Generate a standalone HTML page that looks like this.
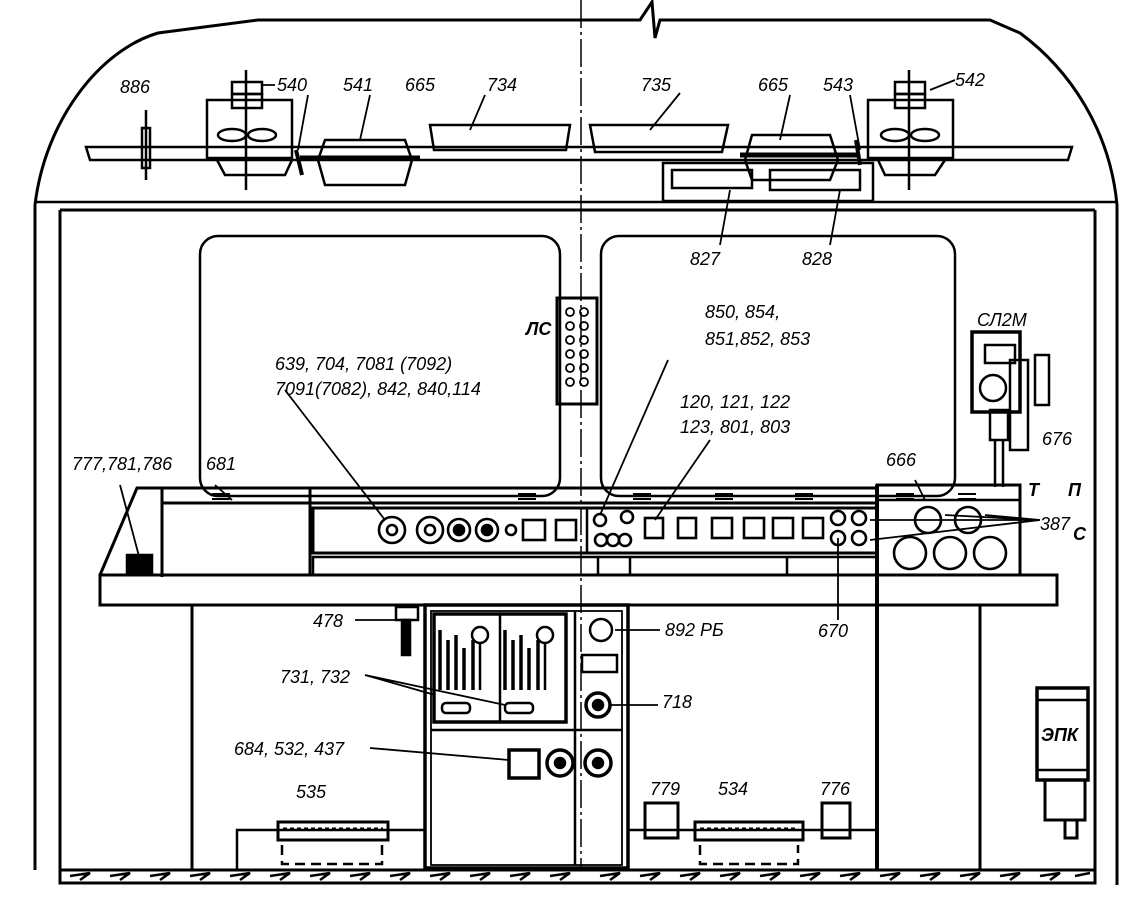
<!DOCTYPE html>
<html><head><meta charset="utf-8"><style>
html,body{margin:0;padding:0;background:#fff;}
svg{display:block}
text{font-family:"Liberation Sans",sans-serif;font-style:italic;font-size:18px;fill:#000}
</style></head><body>
<svg width="1125" height="902" viewBox="0 0 1125 902" xmlns="http://www.w3.org/2000/svg" fill="none" stroke="#000" stroke-width="2.5">
<path d="M35 870 V205 C45 120 100 50 158 33 L258 20 H640 L652 2 L655 38 L660 20 H990 L1020 33 C1070 70 1110 130 1117 205 V885" stroke-width="3"/>
<path d="M35 202 H1117" />
<path d="M60 210 H1095 M60 210 V870 M1095 210 V870" stroke-width="3"/>
<path d="M86 147 H1072 L1068 160 H90 Z" stroke-width="2.5"/>
<path d="M581 0 V870" stroke-width="1.5" stroke-dasharray="28 4 3 4"/>
<rect x="200" y="236" width="360" height="260" rx="18"/>
<rect x="601" y="236" width="354" height="260" rx="18"/>
<g stroke-width="2.5">
<rect x="207" y="100" width="85" height="58"/><rect x="232" y="82" width="30" height="12"/><rect x="232" y="94" width="30" height="14"/>
<path d="M246 70 V190"/><ellipse cx="232" cy="135" rx="14" ry="6"/><ellipse cx="262" cy="135" rx="14" ry="6"/>
<path d="M217 160 L225 175 H285 L292 160"/>
<rect x="868" y="100" width="85" height="58"/><rect x="895" y="82" width="30" height="12"/><rect x="895" y="94" width="30" height="14"/>
<path d="M909 70 V190"/><ellipse cx="895" cy="135" rx="14" ry="6"/><ellipse cx="925" cy="135" rx="14" ry="6"/>
<path d="M878 160 L885 175 H935 L945 160"/>
<path d="M318 160 L325 140 H405 L412 160 L405 185 H325 Z"/><path d="M300 158 H420" stroke-width="5"/>
<path d="M745 160 L752 135 H830 L838 160 L830 180 H752 Z"/><path d="M740 155 H858" stroke-width="5"/>
<path d="M430 125 H570 L566 150 H434 Z"/><path d="M590 125 H728 L722 152 H595 Z"/>
<rect x="663" y="163" width="210" height="38"/><rect x="672" y="170" width="80" height="18"/><rect x="770" y="170" width="90" height="20"/>
<rect x="142" y="128" width="8" height="40"/><path d="M146 110 V180"/>
<path d="M296 150 L302 175 M856 140 L860 165" stroke-width="4"/>
</g>
<rect x="557" y="298" width="40" height="106" stroke-width="3"/>
<g stroke-width="1.8"><circle cx="570" cy="312" r="4"/><circle cx="584" cy="312" r="4"/><circle cx="570" cy="326" r="4"/><circle cx="584" cy="326" r="4"/><circle cx="570" cy="340" r="4"/><circle cx="584" cy="340" r="4"/><circle cx="570" cy="354" r="4"/><circle cx="584" cy="354" r="4"/><circle cx="570" cy="368" r="4"/><circle cx="584" cy="368" r="4"/><circle cx="570" cy="382" r="4"/><circle cx="584" cy="382" r="4"/></g>
<rect x="972" y="332" width="48" height="80" stroke-width="3.5"/>
<rect x="985" y="345" width="30" height="18"/><circle cx="993" cy="388" r="13"/><rect x="1010" y="360" width="18" height="90"/><rect x="1035" y="355" width="14" height="50"/><rect x="990" y="410" width="18" height="30"/>
<path d="M995 440 V487 M1003 440 V487"/>
<path d="M100 575 L137 488 H877 M162 488 V577 M162 503 H877 M310 488 V575" stroke-width="3"/>
<rect x="313" y="508" width="564" height="45" stroke-width="3"/>
<rect x="313" y="557" width="564" height="18"/>
<path d="M598 557 V575 M630 557 V575 M787 557 V575 M587 508 V553"/>
<rect x="127" y="555" width="25" height="20" fill="#000"/>
<rect x="100" y="575" width="957" height="30" stroke-width="3"/>
<path d="M877 485 V870" stroke-width="4"/>
<rect x="877" y="485" width="143" height="90" stroke-width="3"/><path d="M877 500 H1020"/>
<g stroke-width="2.6">
<circle cx="392" cy="530" r="13"/><circle cx="392" cy="530" r="5"/><circle cx="430" cy="530" r="13"/><circle cx="430" cy="530" r="5"/>
<circle cx="459" cy="530" r="11"/><circle cx="459" cy="530" r="5" fill="#000"/><circle cx="487" cy="530" r="11"/><circle cx="487" cy="530" r="5" fill="#000"/><circle cx="511" cy="530" r="5"/>
<rect x="523" y="520" width="22" height="20"/><rect x="556" y="520" width="20" height="20"/>
<circle cx="600" cy="520" r="6"/><circle cx="627" cy="517" r="6"/><circle cx="601" cy="540" r="6"/><circle cx="613" cy="540" r="6"/><circle cx="625" cy="540" r="6"/>
<rect x="645" y="518" width="18" height="20"/><rect x="678" y="518" width="18" height="20"/><rect x="712" y="518" width="20" height="20"/><rect x="744" y="518" width="20" height="20"/><rect x="773" y="518" width="20" height="20"/><rect x="803" y="518" width="20" height="20"/>
<circle cx="838" cy="518" r="7"/><circle cx="859" cy="518" r="7"/><circle cx="838" cy="538" r="7"/><circle cx="859" cy="538" r="7"/>
<circle cx="928" cy="520" r="13"/><circle cx="968" cy="520" r="13"/><circle cx="910" cy="553" r="16"/><circle cx="950" cy="553" r="16"/><circle cx="990" cy="553" r="16"/>
</g>
<g stroke-width="2"><path d="M212 494 h18 M212 499 h18 M518 494 h18 M518 499 h18 M633 494 h18 M633 499 h18 M715 494 h18 M715 499 h18 M795 494 h18 M795 499 h18 M896 494 h18 M896 499 h18 M958 494 h18 M958 499 h18"/></g>
<path d="M192 605 V870 M980 605 V870" stroke-width="3"/>
<rect x="425" y="605" width="203" height="263" stroke-width="3.5"/>
<rect x="431" y="611" width="191" height="254" stroke-width="1.8"/>
<rect x="434" y="614" width="132" height="108" stroke-width="3.5"/>
<path d="M500 614 V722 M431 730 H622 M575 611 V865" stroke-width="2.5"/>
<g stroke-width="3.5"><path d="M440 630 V690 M448 640 V690 M456 635 V690 M464 648 V690 M473 640 V690 M505 630 V690 M513 640 V690 M521 635 V690 M529 648 V690 M538 640 V690"/></g>
<circle cx="480" cy="635" r="8"/><circle cx="545" cy="635" r="8"/><path d="M480 643 V690 M545 643 V690"/>
<rect x="442" y="703" width="28" height="10" rx="4"/><rect x="505" y="703" width="28" height="10" rx="4"/>
<circle cx="601" cy="630" r="11"/><rect x="582" y="655" width="35" height="17"/>
<circle cx="598" cy="705" r="12" stroke-width="3.5"/><circle cx="598" cy="705" r="5" fill="#000"/>
<rect x="509" y="750" width="30" height="28" stroke-width="3.5"/>
<circle cx="560" cy="763" r="13" stroke-width="3.5"/><circle cx="560" cy="763" r="5" fill="#000"/>
<circle cx="598" cy="763" r="13" stroke-width="3.5"/><circle cx="598" cy="763" r="5" fill="#000"/>
<rect x="396" y="607" width="22" height="13"/><rect x="402" y="620" width="8" height="35" fill="#000"/>
<rect x="237" y="830" width="188" height="40"/>
<rect x="278" y="822" width="110" height="18" stroke-width="3"/><path d="M283 829 H383" stroke-dasharray="4 3" stroke-width="3"/>
<path d="M282 845 V864 H382 V845" stroke-dasharray="10 6"/>
<rect x="628" y="830" width="249" height="40"/>
<rect x="695" y="822" width="108" height="18" stroke-width="3"/><path d="M700 829 H798" stroke-dasharray="4 3" stroke-width="3"/>
<path d="M700 845 V864 H798 V845" stroke-dasharray="10 6"/>
<rect x="645" y="803" width="33" height="35" stroke-width="3"/><rect x="822" y="803" width="28" height="35" stroke-width="3"/>
<rect x="1037" y="688" width="51" height="92" stroke-width="3.5"/><path d="M1037 700 H1088 M1037 770 H1088"/>
<path d="M1045 780 V820 H1085 V780" stroke-width="3"/><rect x="1065" y="820" width="12" height="18" stroke-width="3"/>
<rect x="60" y="870" width="1035" height="13" stroke-width="3"/>
<path stroke-width="2.5" d="M70 876 L90 873 L80 880 M110 876 L130 873 L120 880 M150 876 L170 873 L160 880 M190 876 L210 873 L200 880 M230 876 L250 873 L240 880 M270 876 L290 873 L280 880 M310 876 L330 873 L320 880 M350 876 L370 873 L360 880 M390 876 L410 873 L400 880 M430 876 L450 873 L440 880 M470 876 L490 873 L480 880 M510 876 L530 873 L520 880 M550 876 L570 873 L560 880 M600 876 L620 873 L610 880 M640 876 L660 873 L650 880 M680 876 L700 873 L690 880 M720 876 L740 873 L730 880 M760 876 L780 873 L770 880 M800 876 L820 873 L810 880 M840 876 L860 873 L850 880 M880 876 L900 873 L890 880 M920 876 L940 873 L930 880 M960 876 L980 873 L970 880 M1000 876 L1020 873 L1010 880 M1040 876 L1060 873 L1050 880 M1075 876 L1090 873"/>
<g stroke-width="1.8">
<path d="M275 85 H262 M955 80 L930 90 M308 95 L298 150 M370 95 L360 140 M485 95 L470 130 M680 93 L650 130 M790 95 L780 140 M850 95 L860 150"/>
<path d="M720 245 L730 190 M830 245 L840 190 M285 390 L385 520 M668 360 L600 515 M710 440 L655 520 M120 485 L140 560 M215 485 L232 500 M915 480 L925 500 M1040 520 L870 520 M1040 520 L870 540 M1040 520 L985 515 M1040 520 L945 515 M838 538 V620 M355 620 H400 M365 675 L435 695 M365 675 L505 705 M370 748 L509 760 M615 630 H660 M610 705 H658"/>
</g>
<g stroke="none">
<text x="120" y="93">886</text><text x="277" y="91">540</text><text x="343" y="91">541</text><text x="405" y="91">665</text><text x="487" y="91">734</text>
<text x="641" y="91">735</text><text x="758" y="91">665</text><text x="823" y="91">543</text><text x="955" y="86">542</text>
<text x="690" y="265">827</text><text x="802" y="265">828</text>
<text x="526" y="335" font-weight="bold">ЛС</text>
<text x="705" y="318">850, 854,</text><text x="705" y="345">851,852, 853</text>
<text x="275" y="370">639, 704, 7081 (7092)</text><text x="275" y="395">7091(7082), 842, 840,114</text>
<text x="680" y="408">120, 121, 122</text><text x="680" y="433">123, 801, 803</text>
<text x="977" y="326">СЛ2М</text><text x="1042" y="445">676</text>
<text x="72" y="470">777,781,786</text><text x="206" y="470">681</text><text x="886" y="466">666</text>
<text x="1028" y="496" font-weight="bold">Т</text><text x="1068" y="496" font-weight="bold">П</text>
<text x="1040" y="530">387</text><text x="1073" y="540" font-weight="bold">С</text>
<text x="818" y="637">670</text><text x="313" y="627">478</text><text x="665" y="636">892 РБ</text>
<text x="280" y="683">731, 732</text><text x="662" y="708">718</text><text x="234" y="755">684, 532, 437</text>
<text x="296" y="798">535</text><text x="650" y="795">779</text><text x="718" y="795">534</text><text x="820" y="795">776</text>
<text x="1041" y="741" font-weight="bold">ЭПК</text>
</g>
</svg>
</body></html>
